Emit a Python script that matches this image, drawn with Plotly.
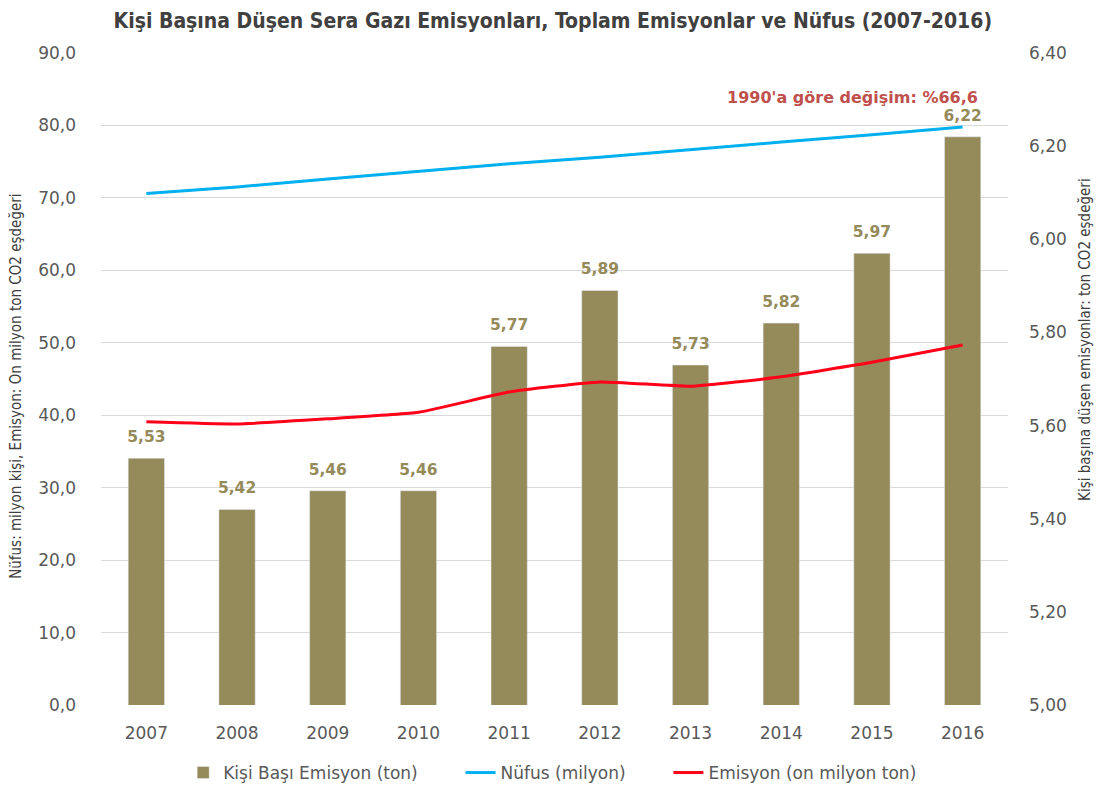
import plotly.graph_objects as go

years = ["2007", "2008", "2009", "2010", "2011", "2012", "2013", "2014", "2015", "2016"]
per_capita = [5.53, 5.42, 5.46, 5.46, 5.77, 5.89, 5.73, 5.82, 5.97, 6.22]
population = [70.6, 71.5, 72.6, 73.7, 74.7, 75.6, 76.7, 77.7, 78.7, 79.8]
emission = [39.1, 38.8, 39.5, 40.4, 43.2, 44.6, 44.0, 45.3, 47.3, 49.7]

cond = "DejaVu Sans Condensed, Liberation Sans Narrow, sans-serif"
tickfont = dict(family="DejaVu Sans, sans-serif", size=17, color="#595959")
NB = "\u00a0"

fig = go.Figure()
fig.add_trace(go.Bar(
    x=years, y=per_capita, name="Kişi Başı Emisyon (ton)" + NB * 7,
    marker=dict(color="#958A5A"), width=0.4, yaxis="y", hoverinfo="x+y",
))
fig.add_trace(go.Scatter(
    x=years, y=per_capita, mode="markers+text", yaxis="y", showlegend=False,
    marker=dict(size=18, color="rgba(0,0,0,0)"),
    texttemplate="<b>%{y:.2f}</b>", textposition="top center", cliponaxis=False,
    textfont=dict(family="DejaVu Sans, sans-serif", size=15.5, color="#958A5A"),
    hoverinfo="skip",
))
fig.add_trace(go.Scatter(
    x=years, y=population, name="Nüfus (milyon)" + NB * 7, mode="lines",
    line=dict(color="#00B0F0", width=3), yaxis="y2",
))
fig.add_trace(go.Scatter(
    x=years, y=emission, name="Emisyon (on milyon ton)", mode="lines",
    line=dict(color="#FF0018", width=3, shape="spline", smoothing=0.4), yaxis="y2",
))

axis_title_font = dict(family=cond, size=15, color="#404040")

fig.update_layout(
    width=1094, height=781,
    separators=",.",
    plot_bgcolor="white", paper_bgcolor="white",
    margin=dict(l=93, r=94, t=45, b=84),
    title=dict(text="<b>Kişi Başına Düşen Sera Gazı Emisyonları, Toplam Emisyonlar ve Nüfus (2007-2016)</b>",
               x=0.498, xanchor="center", y=0.9834, yanchor="middle",
               font=dict(family=cond, size=21, color="#404040")),
    xaxis=dict(type="category", range=[-0.5, len(years) - 0.5], showgrid=False, showline=False,
               ticks="", tickfont=tickfont, ticklabelstandoff=16),
    yaxis=dict(side="right", range=[5.0, 6.4], dtick=0.2, tickformat=".2f",
               showgrid=False, zeroline=False, tickfont=tickfont, ticklabelstandoff=20),
    yaxis2=dict(overlaying="y", side="left", range=[0, 90], dtick=10, tickformat=".1f",
                showgrid=True, gridcolor="#D9D9D9", gridwidth=1, zeroline=False,
                tickfont=tickfont, ticklabelstandoff=24),
    legend=dict(orientation="h", x=0.498, xanchor="center", yref="container", y=0.0205,
                yanchor="middle",
                font=dict(family="DejaVu Sans, sans-serif", size=17, color="#595959"),
                traceorder="normal"),
    annotations=[
        dict(text="<b>1990'a göre değişim: %66,6</b>", xref="paper", yref="paper",
             x=0.969, y=0.9325, xanchor="right", yanchor="middle", showarrow=False,
             font=dict(family="DejaVu Sans, sans-serif", size=16, color="#C0504D")),
        dict(text="Nüfus: milyon kişi, Emisyon: On milyon ton CO2 eşdeğeri", xref="paper", yref="paper",
             x=-0.0937, y=0.488, xanchor="center", yanchor="middle", textangle=-90, showarrow=False,
             font=axis_title_font),
        dict(text="Kişi başına düşen emisyonlar: ton CO2 eşdeğeri", xref="paper", yref="paper",
             x=1.0849, y=0.56, xanchor="center", yanchor="middle", textangle=-90, showarrow=False,
             font=axis_title_font),
    ],
)

fig.write_html("out.html")
